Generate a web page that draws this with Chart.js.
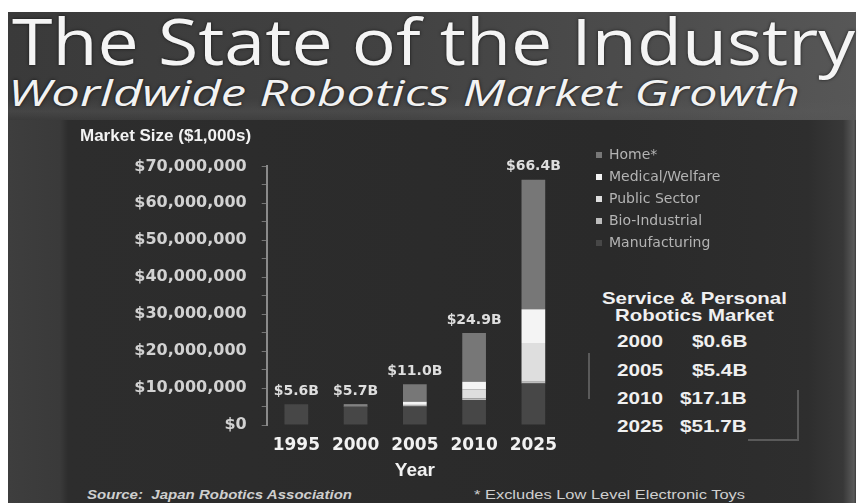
<!DOCTYPE html>
<html>
<head>
<meta charset="utf-8">
<script src="https://cdn.jsdelivr.net/npm/chart.js@4.4.1/dist/chart.umd.min.js"></script>
<style>
  html, body { margin: 0; padding: 0; width: 860px; height: 503px; overflow: hidden; background: #ffffff; }
  #slide { position: absolute; left: 8px; top: 12px; width: 848px; height: 491px;
    background: linear-gradient(to right, #3e3e3e 0px, #3a3a3a 52px, #2d2d2d 60px, #2a2a2a 600px, #2e2e2e 800px, #383838 835px, #5a5a5a 846px, #3a3a3a 848px); }
  #band { position: absolute; left: 8px; top: 12px; width: 848px; height: 108px;
    background: linear-gradient(to right, #3a3a3a 0%, #424242 45%, #4e4e4e 80%, #575757 100%); }
  #band2 { position: absolute; left: 8px; top: 12px; width: 848px; height: 108px;
    background: linear-gradient(to bottom, rgba(0,0,0,0) 0%, rgba(0,0,0,0) 80%, rgba(90,90,90,0.35) 92%, rgba(40,40,40,0.0) 100%); }
  .txt { position: absolute; white-space: nowrap; line-height: normal; transform-origin: left top; }
  #title { font-family: "Open Sans", sans-serif; font-weight: 400; font-size: 64px; color: #f4f4f4;
    text-shadow: 0 0 3px rgba(0,0,0,0.7); }
  #subtitle { font-family: "Open Sans", sans-serif; font-style: italic; font-weight: 400; font-size: 36px; color: #f2f2f2;
    text-shadow: 0 0 3px rgba(0,0,0,0.7); }
  .svc { font-family: "Liberation Sans", Arial, sans-serif; font-weight: bold; font-size: 17px; color: #f0f0f0; }
  .foot { font-family: "Liberation Sans", Arial, sans-serif; font-size: 13px; color: #cfcfcf; }
  .deco { position: absolute; background: #5a5a5a; }
  #chartBox { position: absolute; left: 60px; top: 122px; width: 680px; height: 360px; }
</style>
</head>
<body>
<div id="slide"></div>
<div id="band"></div>
<div id="band2"></div>
<div class="txt" id="title" data-w="843" style="left:12px; top:-3px;">The State of the Industry</div>
<div class="txt" id="subtitle" data-w="792" style="left:8px; top:68px;">Worldwide Robotics Market Growth</div>

<div class="deco" style="left:588px; top:353px; width:2px; height:46px;"></div>
<div class="deco" style="left:797px; top:390px; width:2px; height:50px;"></div>
<div class="deco" style="left:748px; top:439px; width:51px; height:2px;"></div>

<div id="svcTable"></div>

<div class="txt foot" id="src" data-w="265" style="left:87px; top:487px; font-style: italic; font-weight: bold;">Source:&nbsp; Japan Robotics Association</div>
<div class="txt foot" id="note" data-w="271" style="left:474px; top:487px;">* Excludes Low Level Electronic Toys</div>

<div id="chartBox"><canvas id="chart"></canvas></div>

<script>
// ---- Data (Market Size in $1,000s) ----
const categories = ['1995', '2000', '2005', '2010', '2025'];
const manufacturing  = [5600000, 5000000, 5000000, 6800000, 11200000];
const bioIndustrial  = [0, 0, 200000, 400000, 500000];
const publicSector   = [0, 200000, 500000, 2500000, 10500000];
const medicalWelfare = [0, 0, 600000, 2000000, 9100000];
const home           = [0, 500000, 4700000, 13200000, 35100000];
const totals         = [5600000, 5700000, 11000000, 24900000, 66400000];
const totalLabels    = ['$5.6B', '$5.7B', '$11.0B', '$24.9B', '$66.4B'];
const yTickLabels    = ['$0', '$10,000,000', '$20,000,000', '$30,000,000', '$40,000,000', '$50,000,000', '$60,000,000', '$70,000,000'];
const serviceYears   = ['2000', '2005', '2010', '2025'];
const serviceValues  = ['$0.6B', '$5.4B', '$17.1B', '$51.7B'];

// ---- Service & Personal table (real text) ----
(function buildTable() {
  const host = document.getElementById('svcTable');
  const sx = 1.2;
  const mk = (text, style) => {
    const d = document.createElement('div');
    d.className = 'txt svc';
    d.textContent = text;
    Object.assign(d.style, style);
    host.appendChild(d);
    return d;
  };
  mk('Service & Personal', { left: '602px', top: '289px', transform: 'scaleX(' + sx + ')' });
  mk('Robotics Market', { left: '615px', top: '305.5px', transform: 'scaleX(' + sx + ')' });
  serviceYears.forEach((yr, i) => {
    const top = (332.4 + i * 28.3) + 'px';
    mk(yr, { left: '617px', top: top, transform: 'scaleX(1.22)' });
    mk(serviceValues[i], { right: (860 - 747) + 'px', top: top, transform: 'scaleX(1.22)', transformOrigin: 'right top' });
  });
})();

function fitTexts() {
  document.querySelectorAll('[data-w]').forEach(el => {
    el.style.transform = 'none';
    const nat = el.getBoundingClientRect().width;
    const w = parseFloat(el.dataset.w);
    if (nat > 0) el.style.transform = 'scaleX(' + (w / nat) + ')';
  });
}
fitTexts();
if (document.fonts && document.fonts.ready) document.fonts.ready.then(fitTexts);

// ---- Chart ----
const LEGEND_LEFT = 528;  // canvas coords
const LEGEND_TOP = 18;

const legendPlacer = {
  id: 'legendPlacer',
  afterLayout(chart) {
    const lg = chart.legend;
    if (!lg) return;
    const w = lg.width, h = lg.height;
    lg.left = LEGEND_LEFT; lg.right = LEGEND_LEFT + w;
    lg.top = LEGEND_TOP; lg.bottom = LEGEND_TOP + h;
  }
};

const totalsPlugin = {
  id: 'totalsLabels',
  afterDatasetsDraw(chart) {
    const { ctx, scales: { x, y } } = chart;
    ctx.save();
    ctx.font = 'bold 14px "DejaVu Sans", sans-serif';
    ctx.fillStyle = '#dedede';
    ctx.textAlign = 'center';
    ctx.textBaseline = 'middle';
    totals.forEach((t, i) => {
      ctx.fillText(totalLabels[i], x.getPixelForValue(i), y.getPixelForValue(t) - 13);
    });
    ctx.restore();
  }
};

const barCommon = { barPercentage: 0.4, categoryPercentage: 1.0, borderWidth: 0 };

new Chart(document.getElementById('chart'), {
  type: 'bar',
  data: {
    labels: categories,
    datasets: [
      Object.assign({ label: 'Manufacturing',   data: manufacturing,  backgroundColor: '#474747' }, barCommon),
      Object.assign({ label: 'Bio-Industrial',  data: bioIndustrial,  backgroundColor: '#bdbdbd' }, barCommon),
      Object.assign({ label: 'Public Sector',   data: publicSector,   backgroundColor: '#dedede' }, barCommon),
      Object.assign({ label: 'Medical/Welfare', data: medicalWelfare, backgroundColor: '#f4f4f4' }, barCommon),
      Object.assign({ label: 'Home*',           data: home,           backgroundColor: '#777777' }, barCommon)
    ]
  },
  options: {
    responsive: true,
    maintainAspectRatio: false,
    animation: false,
    layout: { padding: { left: 20, right: 177, top: 0, bottom: 0 } },
    plugins: {
      title: {
        display: true,
        text: 'Market Size ($1,000s)',
        align: 'start',
        color: '#f2f2f2',
        font: { family: '"Liberation Sans", Arial, sans-serif', size: 17, weight: 'bold' },
        padding: { top: 4, bottom: 20 }
      },
      legend: {
        display: true,
        position: 'chartArea',
        align: 'start',
        reverse: true,
        labels: {
          boxWidth: 6,
          boxHeight: 6,
          padding: 8,
          color: '#b4b4b4',
          font: { family: '"DejaVu Sans", sans-serif', size: 14 }
        }
      },
      tooltip: { enabled: false }
    },
    scales: {
      x: {
        stacked: true,
        afterFit(scale) { scale.height = 57; },
        grid: { display: false, drawTicks: false },
        border: { display: false },
        ticks: {
          padding: 10,
          color: '#f2f2f2',
          font: { family: '"DejaVu Sans", sans-serif', size: 17, weight: 'bold' }
        },
        title: {
          display: true,
          text: 'Year',
          color: '#f2f2f2',
          font: { family: '"Liberation Sans", Arial, sans-serif', size: 19, weight: 'bold' },
          padding: 0
        }
      },
      y: {
        stacked: true,
        min: 0,
        max: 70000000,
        afterFit(scale) { scale.width = 186.7; },
        border: { display: true, color: '#8a8a8a', width: 2 },
        grid: { display: true, drawOnChartArea: false, drawTicks: true, tickLength: 5, color: '#767676', lineWidth: 1 },
        ticks: {
          stepSize: 5000000,
          autoSkip: false,
          padding: 15,
          color: '#d2d2d2',
          font: { family: '"DejaVu Sans", sans-serif', size: 16, weight: 'bold' },
          callback: (v) => (v % 10000000 === 0 ? yTickLabels[v / 10000000] : '')
        }
      }
    }
  },
  plugins: [legendPlacer, totalsPlugin]
});
</script>
</body>
</html>
